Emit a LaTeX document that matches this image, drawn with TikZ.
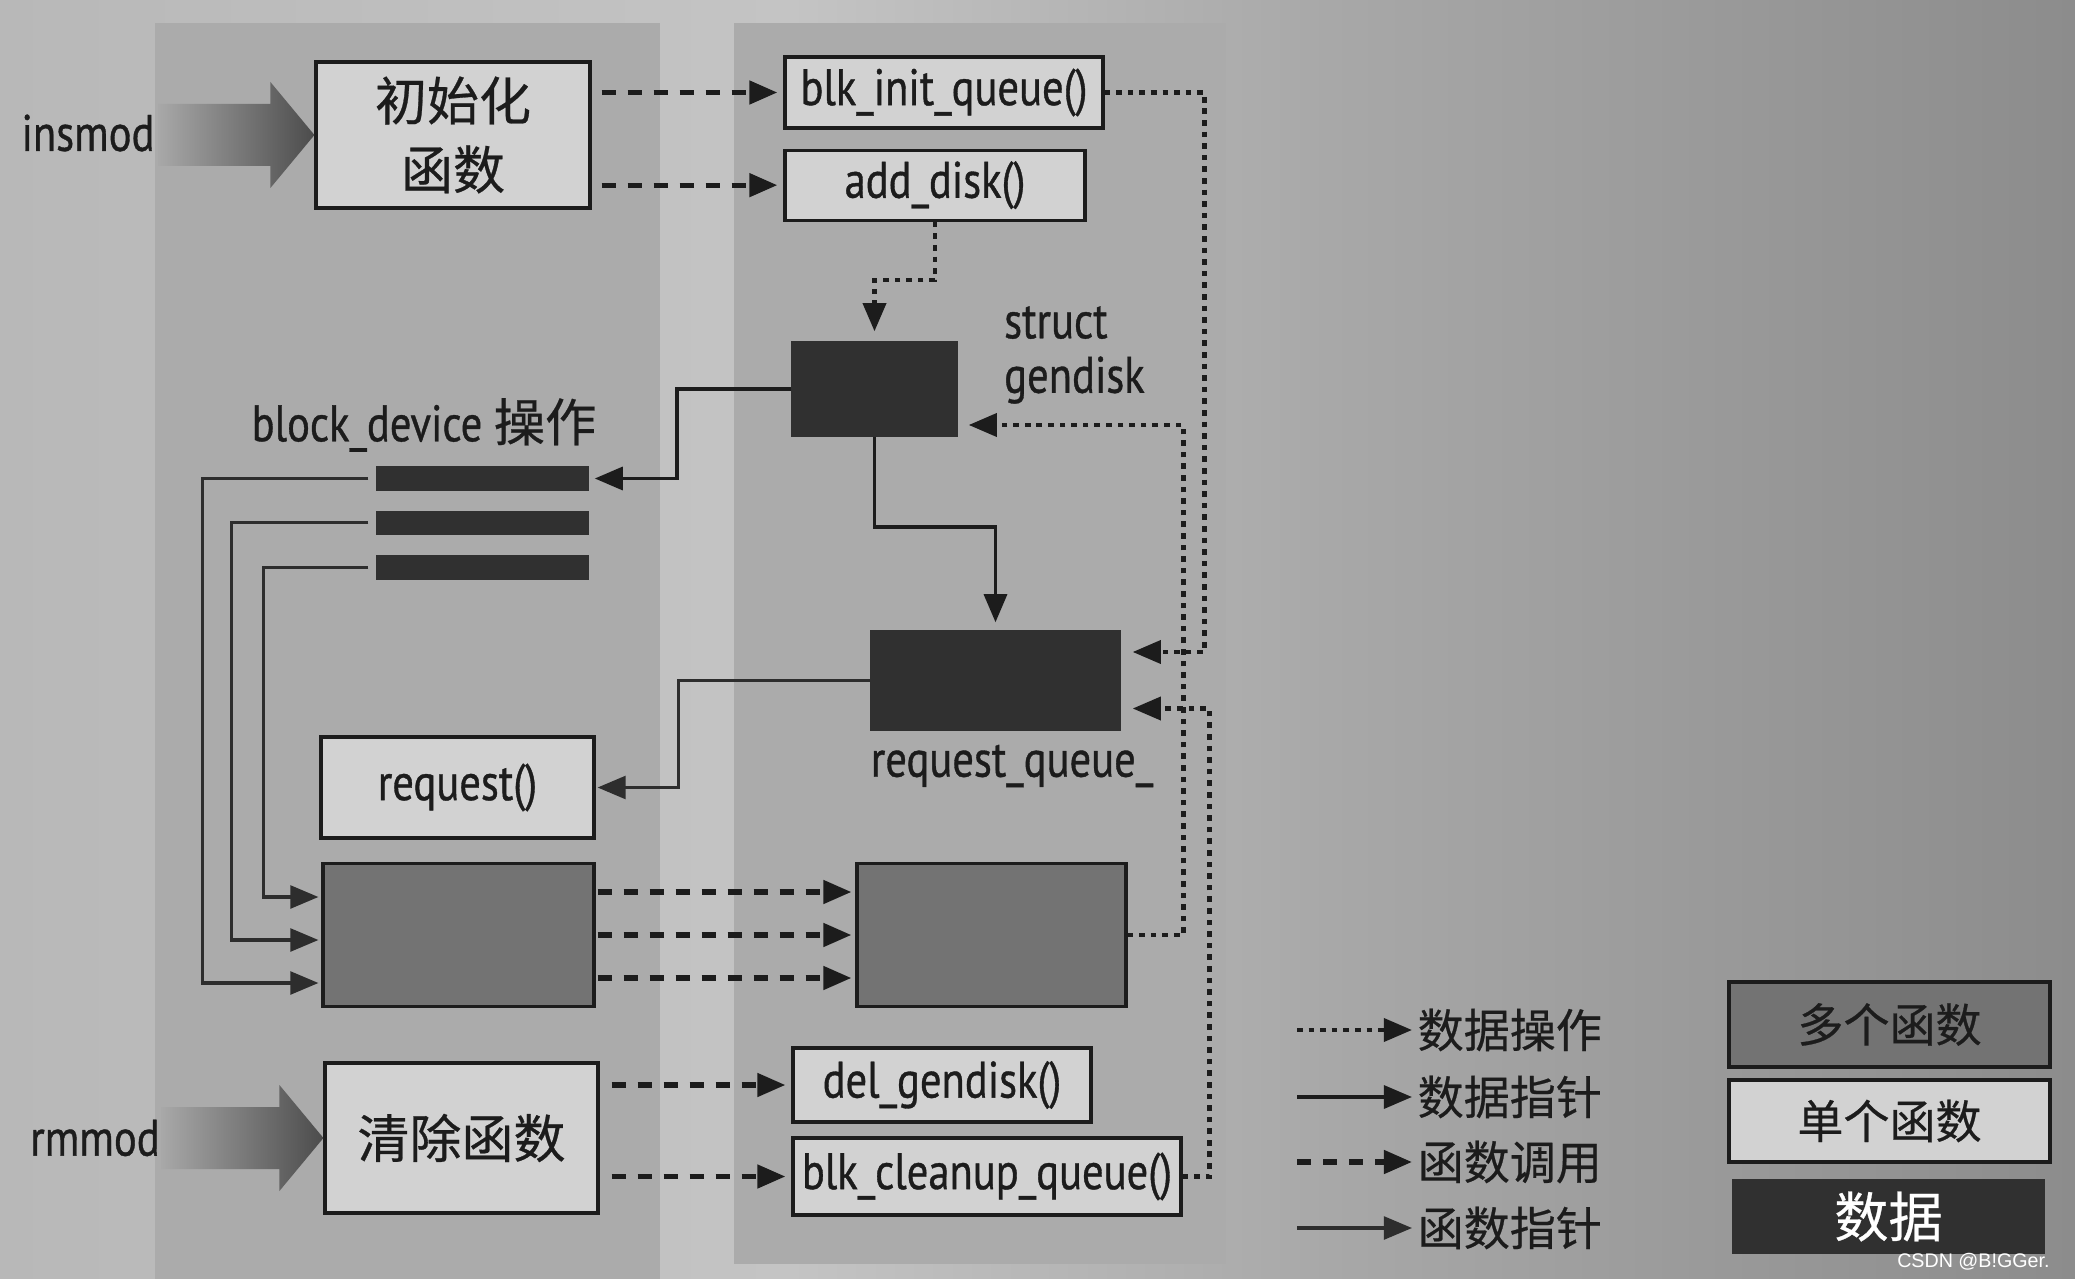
\documentclass[tikz,border=0pt]{standalone}
\usepackage{fontspec}
\setmainfont[FakeStretch=0.83, FakeBold=0.7]{PT Sans}
\newfontfamily\cjk[FakeBold=0.5]{Noto Sans CJK SC}
\newfontfamily\wmfont{Liberation Sans}
\usepackage{tikz}
\usetikzlibrary{%
	calc,%
	arrows.meta,%
	positioning,%
}
\definecolor{cbga}{RGB}{184, 184, 184}
\definecolor{cbgb}{RGB}{196, 196, 196}
\definecolor{cbgc}{RGB}{168, 168, 168}
\definecolor{cbgd}{RGB}{140, 140, 140}
\definecolor{cpanel}{RGB}{171, 171, 171}
\definecolor{cboxlight}{RGB}{210, 210, 210}
\definecolor{cboxmid}{RGB}{115, 115, 115}
\definecolor{cboxdark}{RGB}{48, 48, 48}
\definecolor{cline}{RGB}{28, 28, 28}
\definecolor{cfptr}{RGB}{45, 45, 45}
\definecolor{carrowlight}{RGB}{168, 168, 168}
\definecolor{carrowdark}{RGB}{76, 76, 76}
\pgfdeclarehorizontalshading{pagelight}{100bp}{color(0bp)=(cbga); color(25bp)=(cbga); color(44bp)=(cbgb); color(57bp)=(cbgc); color(75bp)=(cbgd); color(100bp)=(cbgd)}
\newcommand{\latfont}{\fontsize{14.6}{15.5}\selectfont}
\newcommand{\cjkbig}{\cjk\fontsize{14.8}{19.6}\selectfont}
\newcommand{\cjkleg}{\cjk\fontsize{13.1}{15}\selectfont}
\newcommand{\cjkdata}{\cjk\fontsize{15.4}{17}\selectfont}
\newcommand{\loadarrow}[2]{%
	\shade[bigarrow] ($(#1)+(-#2,0.31)$) -- ($(#1)+(-0.44,0.31)$) -- ($(#1)+(-0.44,0.53)$) -- (#1) -- ($(#1)+(-0.44,-0.53)$) -- ($(#1)+(-0.44,-0.31)$) -- ($(#1)+(-#2,-0.31)$) -- cycle;}
\tikzset{
	>={Triangle[length=8pt,width=6.5pt]},%
	nodes={align=center, text=cline},%
	panel/.style={fill=cpanel},%
	func/.style={%
			draw=cline,%
			line width=0.9pt,%
			fill=cboxlight,%
			font=\latfont,%
			inner sep=0pt},%
	multi/.style={%
			draw=cline,%
			line width=0.9pt,%
			fill=cboxmid,%
			inner sep=0pt},%
	datab/.style={%
			fill=cboxdark,%
			draw=cboxdark,%
			inner sep=0pt},%
	bar/.style={%
			datab,%
			minimum width=2.11cm,%
			minimum height=0.23cm},%
	lbl/.style={font=\latfont, inner sep=1pt},%
	legtext/.style={font=\cjkleg, inner sep=0.5mm, anchor=west},%
	dataop/.style={->, draw=cline, line width=1.2pt, dash pattern=on 1.6pt off 1.7pt},%
	dataptr/.style={->, draw=cline, line width=1.1pt},%
	call/.style={->, draw=cline, line width=1.5pt, dash pattern=on 4pt off 3.4pt},%
	funcptr/.style={->, draw=cfptr, line width=0.9pt},%
	bigarrow/.style={left color=carrowlight, right color=carrowdark},%
}

\begin{document}
\begin{tikzpicture}
	\useasboundingbox (0,0) rectangle (20.75,-12.79);
	\shade[shading=pagelight] (0,0) rectangle (20.75,-12.79);
	\fill[panel] (1.55,-0.23) rectangle (6.60,-12.79);
	\fill[panel] (7.34,-0.23) rectangle (12.26,-12.64);

	\node[func, minimum width=2.74cm, minimum height=1.46cm, font=\cjkbig] (init) at (4.53,-1.35) {初始化\\函数};
	\loadarrow{init.west}{1.56}
	\node[lbl] (insmod) at (0.88,-1.33) {insmod};
	\node[func, minimum width=3.18cm, minimum height=0.71cm] (blkinit) at (9.44,-0.925) {blk\_init\_queue()};
	\node[func, minimum width=3.00cm, minimum height=0.70cm] (adddisk) [below=0.19cm of blkinit.south west, anchor=north west] {add\_disk()};

	\node[datab, minimum width=1.65cm, minimum height=0.94cm] (gendisk) at (8.745,-3.89) {};
	\node[lbl, align=left, anchor=west] (gdname) at (10.0,-3.55) {struct\\gendisk};
	\node[lbl] (bdname) at (4.24,-4.25) {block\_device {\cjk 操作}};
	\node[bar] (bar1) at (4.825,-4.785) {};
	\node[bar] (bar2) [below=0.2cm of bar1] {};
	\node[bar] (bar3) [below=0.2cm of bar2] {};

	\node[datab, minimum width=2.49cm, minimum height=0.99cm] (reqq) at (9.955,-6.805) {};
	\node[lbl] (rqname) at (10.12,-7.66) {request\_queue\_};
	\node[func, minimum width=2.73cm, minimum height=1.01cm] (request) at (4.575,-7.875) {request()};
	\node[multi, minimum width=2.71cm, minimum height=1.43cm] (lmulti) at (4.585,-9.35) {};
	\node[multi, minimum width=2.69cm, minimum height=1.43cm] (rmulti) at (9.915,-9.35) {};

	\node[func, minimum width=2.73cm, minimum height=1.50cm, font=\cjkbig] (clean) at (4.615,-11.38) {清除函数};
	\loadarrow{clean.west}{1.62}
	\node[lbl] (rmmod) at (0.95,-11.38) {rmmod};
	\node[func, minimum width=2.98cm, minimum height=0.74cm] (delgd) at (9.42,-10.85) {del\_gendisk()};
	\node[func, minimum width=3.88cm, minimum height=0.77cm] (blkclean) at (9.87,-11.765) {blk\_cleanup\_queue()};

	\draw[call, shorten <=0.1cm, shorten >=0.06cm] (init.east |- blkinit.west) -- (blkinit.west);
	\draw[call, shorten <=0.1cm, shorten >=0.06cm] (init.east |- adddisk.west) -- (adddisk.west);
	\draw[dataop, shorten >=0.1cm] (adddisk.south) -- ++(0,-0.58) -| (gendisk.north);
	\draw[dataop, shorten >=0.12cm] (blkinit.east) -- ++(1.0,0) |- ($(reqq.east)+(0,0.285)$);
	\draw[dataop, shorten >=0.11cm] (rmulti.east) -- ++(0.56,0) |- ($(gendisk.east)+(0,-0.36)$);
	\draw[dataop, shorten >=0.12cm] (blkclean.east) -- ++(0.27,0) |- ($(reqq.east)+(0,-0.28)$);
	\draw[dataptr, shorten >=0.06cm] (gendisk.west) -- ++(-1.14,0) |- (bar1.east);
	\draw[dataptr, shorten >=0.08cm] (gendisk.south) -- ++(0,-0.9) -| (reqq.north);
	\draw[funcptr, shorten >=0.02cm] (reqq.west) -- ++(-1.92,0) |- (request.east);
	\draw[funcptr, shorten <=0.08cm, shorten >=0.03cm] (bar1.west) -- ++(-1.74,0) |- ($(lmulti.west)+(0,-0.48)$);
	\draw[funcptr, shorten <=0.08cm, shorten >=0.03cm] (bar2.west) -- ++(-1.45,0) |- ($(lmulti.west)+(0,-0.05)$);
	\draw[funcptr, shorten <=0.08cm, shorten >=0.03cm] (bar3.west) -- ++(-1.13,0) |- ($(lmulti.west)+(0,0.38)$);
	\foreach \dy in {0.43,0,-0.43}
		\draw[call, shorten <=0.02cm, shorten >=0.04cm] ($(lmulti.east)+(0,\dy)$) -- ($(rmulti.west)+(0,\dy)$);
	\draw[call, shorten <=0.12cm, shorten >=0.06cm] (clean.east |- delgd.west) -- (delgd.west);
	\draw[call, shorten <=0.12cm, shorten >=0.06cm] (clean.east |- blkclean.west) -- (blkclean.west);

	\node[legtext] (lgop) at (14.12,-10.30) {数据操作};
	\node[legtext] (lgdptr) at (14.12,-10.97) {数据指针};
	\node[legtext] (lgcall) at (14.12,-11.62) {函数调用};
	\node[legtext] (lgfptr) at (14.12,-12.28) {函数指针};
	\coordinate (lgops) at (12.97,-10.30);
	\coordinate (lgdptrs) at (12.97,-10.97);
	\coordinate (lgcalls) at (12.97,-11.62);
	\coordinate (lgfptrs) at (12.97,-12.28);
	\draw[dataop] (lgops) -- (lgop.west);
	\draw[dataptr] (lgdptrs) -- (lgdptr.west);
	\draw[call] (lgcalls) -- (lgcall.west);
	\draw[funcptr] (lgfptrs) -- (lgfptr.west);

	\node[multi, minimum width=3.21cm, minimum height=0.85cm, font=\cjkleg] (lgmulti) at (18.895,-10.245) {多个函数};
	\node[func, minimum width=3.21cm, minimum height=0.82cm, font=\cjkleg] (lgsingle) at (18.895,-11.21) {单个函数};
	\node[datab, minimum width=3.11cm, minimum height=0.73cm, font=\cjkdata, text=white] (lgdata) at (18.885,-12.165) {数据};
	\node[font=\wmfont\fontsize{5.6}{6}\selectfont, text=white, anchor=east] (mark) at (20.62,-12.62) {CSDN @B!GGer.};
\end{tikzpicture}
\end{document}
